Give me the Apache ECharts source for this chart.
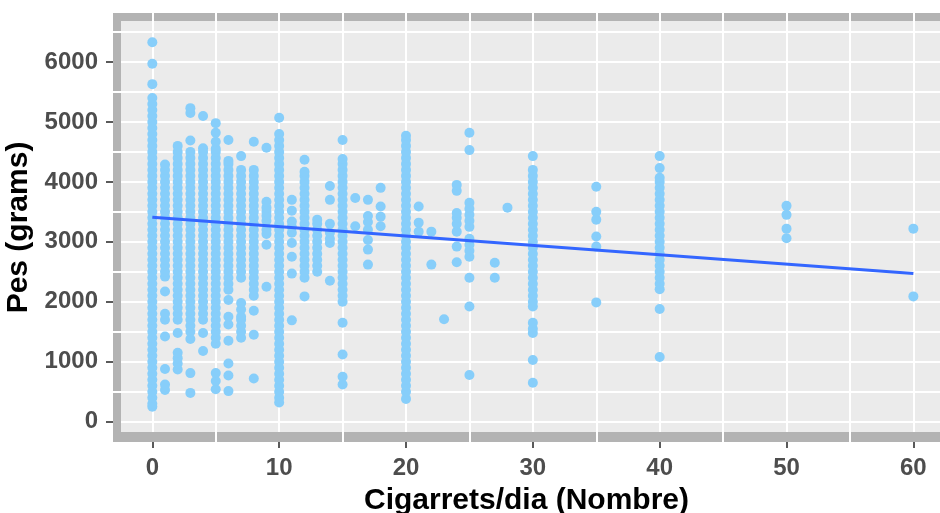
<!DOCTYPE html>
<html>
<head>
<meta charset="utf-8">
<script src="https://cdn.jsdelivr.net/npm/echarts@6/dist/echarts.min.js"></script>
<style>
  html, body { margin: 0; padding: 0; background: #ffffff; }
  #chart { width: 940px; height: 513px; }
</style>
</head>
<body>
<div id="chart"></div>
<script>
// Birth weight (grams) by cigarettes smoked per day
const pes00 = [250,300,400,500,600,700,800,900,1000,1100,1200,1300,1400,1500,1600,1700,1800,1900,2000,2100,2200,2300,2400,2500,2600,2700,2800,2900,3000,3100,3200,3300,3400,3500,3600,3700,3800,3900,4000,4100,4200,4300,4400,4500,4600,4700,4800,4900,5000,5100,5200,5300,5400,5630,5970,6330];
const pes01 = [530,620,880,1420,1700,1800,2170,2420,2500,2600,2700,2800,2900,3000,3100,3200,3300,3400,3500,3600,3700,3800,3900,4000,4100,4200,4290];
const pes02 = [870,970,1060,1150,1480,1700,1800,1900,2000,2100,2200,2300,2400,2500,2600,2700,2800,2900,3000,3100,3200,3300,3400,3500,3600,3700,3800,3900,4000,4100,4200,4300,4400,4500,4600];
const pes03 = [480,810,1380,1500,1600,1700,1800,1900,2000,2100,2200,2300,2400,2500,2600,2700,2800,2900,3000,3100,3200,3300,3400,3500,3600,3700,3800,3900,4000,4100,4200,4300,4400,4500,4690,5150,5230];
const pes04 = [1180,1480,1700,1800,1900,2000,2100,2200,2300,2400,2500,2600,2700,2800,2900,3000,3100,3200,3300,3400,3500,3600,3700,3800,3900,4000,4100,4200,4300,4400,4500,4560,5100];
const pes05 = [540,680,810,1300,1400,1500,1600,1700,1800,1900,2000,2100,2200,2300,2400,2500,2600,2700,2800,2900,3000,3100,3200,3300,3400,3500,3600,3700,3800,3900,4000,4100,4200,4300,4400,4500,4550,4670,4820,4980];
const pes06 = [510,770,970,1350,1620,1750,2030,2200,2300,2400,2500,2600,2700,2800,2900,3000,3100,3200,3300,3400,3500,3600,3700,3800,3900,4000,4100,4200,4300,4350,4700];
const pes07 = [1400,1500,1600,1700,1750,1870,1980,2400,2500,2600,2700,2800,2900,3000,3100,3200,3300,3400,3500,3600,3700,3800,3900,4000,4100,4200,4430];
const pes08 = [720,1450,1850,2100,2200,2300,2400,2500,2600,2700,2800,2900,3000,3100,3200,3300,3400,3500,3600,3700,3800,3900,4000,4100,4200,4670];
const pes09 = [2250,2950,3130,3200,3350,3430,3500,3570,3670,4570];
const pes10 = [320,400,500,600,700,800,900,1000,1100,1200,1300,1400,1500,1600,1700,1800,1900,2000,2100,2200,2300,2400,2500,2600,2700,2800,2900,3000,3100,3200,3300,3400,3500,3600,3700,3800,3900,4000,4100,4200,4300,4400,4500,4600,4700,4800,5070];
const pes11 = [1690,2470,2750,2980,3150,3250,3340,3520,3700];
const pes12 = [2090,2400,2500,2600,2700,2800,2900,3000,3100,3200,3300,3400,3500,3600,3700,3800,3900,4000,4100,4170,4370];
const pes13 = [2500,2600,2700,2800,2900,3000,3100,3200,3300,3370];
const pes14 = [2350,2980,3050,3150,3300,3700,3930];
const pes15 = [620,750,1120,1650,2000,2100,2200,2300,2400,2500,2600,2700,2800,2900,3000,3100,3200,3300,3400,3500,3600,3700,3800,3900,4000,4100,4200,4300,4380,4700];
const pes16 = [3260,3730];
const pes17 = [2620,2870,3030,3200,3330,3430,3700];
const pes18 = [3260,3420,3590,3900];
const pes20 = [380,500,600,700,800,900,1000,1100,1200,1300,1400,1500,1600,1700,1800,1900,2000,2100,2200,2300,2400,2500,2600,2700,2800,2900,3000,3100,3200,3300,3400,3500,3600,3700,3800,3900,4000,4100,4200,4300,4400,4500,4600,4700,4770];
const pes21 = [3170,3320,3590];
const pes22 = [2620,3170];
const pes23 = [1710];
const pes24 = [2660,2920,3170,3300,3400,3480,3850,3950];
const pes25 = [780,1920,2400,2750,2850,2950,3050,3250,3350,3450,3550,3650,4530,4820];
const pes27 = [2400,2650];
const pes28 = [3570];
const pes30 = [650,1030,1480,1550,1650,1920,2000,2100,2200,2300,2400,2500,2600,2700,2800,2900,3000,3100,3200,3300,3400,3500,3600,3700,3800,3900,4000,4100,4200,4430];
const pes35 = [1990,2920,3090,3370,3500,3920];
const pes40 = [1080,1880,2210,2300,2400,2500,2600,2700,2800,2900,3000,3100,3200,3300,3400,3500,3600,3700,3800,3900,4000,4070,4230,4430];
const pes50 = [3060,3220,3450,3600];
const pes60 = [2090,3220];

const cigarettes = [0,1,2,3,4,5,6,7,8,9,10,11,12,13,14,15,16,17,18,20,21,22,23,24,25,27,28,30,35,40,50,60];
const weightGroups = [pes00,pes01,pes02,pes03,pes04,pes05,pes06,pes07,pes08,pes09,pes10,pes11,pes12,pes13,pes14,pes15,pes16,pes17,pes18,pes20,pes21,pes22,pes23,pes24,pes25,pes27,pes28,pes30,pes35,pes40,pes50,pes60];

// Least-squares line end points
const fitX = [0, 60];
const fitY = [3410, 2470];

// Tick and grid positions
const xMajorTicks = [0, 10, 20, 30, 40, 50, 60];
const xMinorTicks = [5, 15, 25, 35, 45, 55];
const yMajorTicks = [0, 1000, 2000, 3000, 4000, 5000, 6000];
const yMinorTicks = [500, 1500, 2500, 3500, 4500, 5500, 6500];

// Axis extents (outer frame) and inner panel edges
const X_MIN = -3.1, X_MAX = 62.1, X_PANEL = -2.47;
const Y_MIN = -339, Y_MAX = 6817, Y_PANEL = -172;

const points = [];
cigarettes.forEach((c, i) => weightGroups[i].forEach(w => points.push([c, w])));

const gridLines = [].concat(
  xMinorTicks.map(v => ({ xAxis: v })),
  yMinorTicks.map(v => ({ yAxis: v })),
  xMajorTicks.map(v => [{ coord: [v, Y_MAX] }, { coord: [v, Y_PANEL] }]),
  yMajorTicks.map(v => [{ coord: [X_PANEL, v] }, { coord: [X_MAX, v] }])
);

const plain = v => String(v);
const tickFont = { color: '#4D4D4D', fontFamily: 'Liberation Sans', fontWeight: 'bold', fontSize: 24 };
const titleFont = { color: '#000000', fontFamily: 'Liberation Sans', fontWeight: 'bold', fontSize: 30 };

const chart = echarts.init(document.getElementById('chart'), null, { renderer: 'canvas' });
chart.setOption({
  animation: false,
  backgroundColor: '#FFFFFF',
  grid: { left: 113, right: 0, top: 13, bottom: 71, containLabel: false, outerBoundsMode: 'none' },
  graphic: {
    elements: [
      { type: 'rect', z: -10, silent: true, shape: { x: 113, y: 13, width: 827, height: 429 }, style: { fill: '#B3B3B3' } },
      { type: 'rect', z: -9, silent: true, shape: { x: 121, y: 21, width: 819, height: 411 }, style: { fill: '#EBEBEB' } }
    ]
  },
  xAxis: {
    type: 'value', min: X_MIN, max: X_MAX,
    splitLine: { show: false },
    axisLine: { show: false, onZero: false },
    axisTick: { show: true, length: 6, customValues: xMajorTicks, lineStyle: { color: '#5A5A5A', width: 2 } },
    axisLabel: Object.assign({ customValues: xMajorTicks, margin: 14, formatter: plain }, tickFont),
    name: 'Cigarrets/dia (Nombre)', nameLocation: 'middle', nameGap: 44,
    nameTextStyle: titleFont
  },
  yAxis: {
    type: 'value', min: Y_MIN, max: Y_MAX,
    splitLine: { show: false },
    axisLine: { show: false, onZero: false },
    axisTick: { show: true, length: 7, customValues: yMajorTicks, lineStyle: { color: '#5A5A5A', width: 2 } },
    axisLabel: Object.assign({ customValues: yMajorTicks, margin: 15, formatter: plain }, tickFont),
    name: 'Pes (grams)', nameLocation: 'middle', nameGap: 76,
    nameTextStyle: titleFont
  },
  series: [
    {
      type: 'scatter', data: [], z: 1, silent: true,
      markLine: {
        silent: true, symbol: ['none', 'none'], label: { show: false },
        emphasis: { disabled: true }, animation: false,
        lineStyle: { color: '#FFFFFF', width: 2, type: 'solid', opacity: 1 },
        data: gridLines
      }
    },
    {
      type: 'scatter', data: points, symbol: 'circle', symbolSize: 10, z: 5,
      itemStyle: { color: '#87CEFA', opacity: 1 }
    },
    {
      type: 'line', data: fitX.map((x, i) => [x, fitY[i]]), z: 6,
      symbol: 'none', showSymbol: false,
      lineStyle: { color: '#3366FF', width: 3 }
    }
  ]
});
</script>
</body>
</html>
